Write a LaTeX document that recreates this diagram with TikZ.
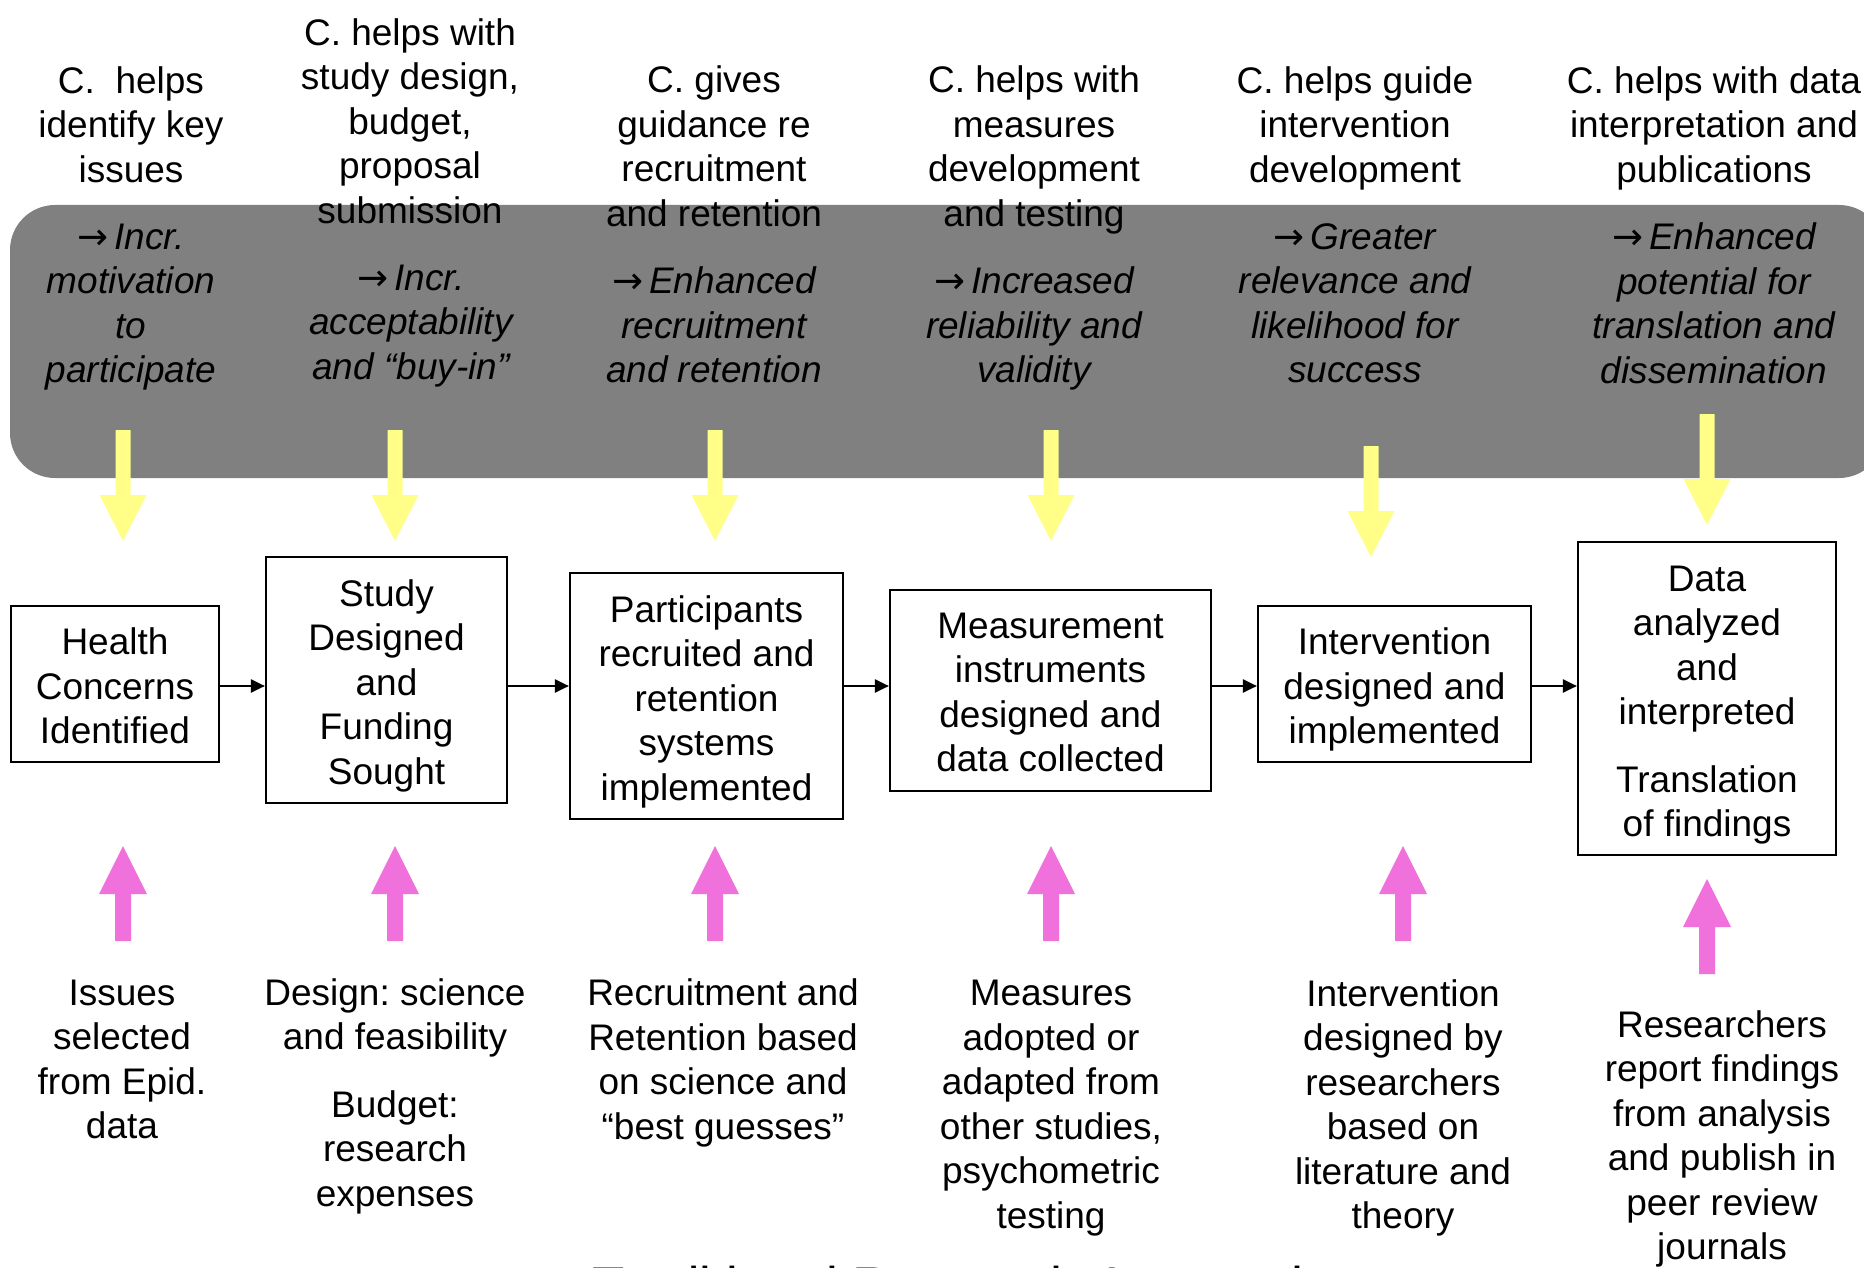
\documentclass[tikz,border=0pt]{standalone}
\usepackage{fontspec}
\setmainfont{Liberation Sans}
\newfontfamily\arrowfont{DejaVu Sans}
\usetikzlibrary{arrows.meta}
\definecolor{bandgray}{RGB}{128,128,128}
\definecolor{yel}{RGB}{255,255,136}
\definecolor{pnk}{RGB}{240,112,220}
\newcommand{\rarr}{{\upshape\arrowfont →}\,}
\frenchspacing
\begin{document}
\begin{tikzpicture}[x=1pt,y=-1pt,
  txt/.style={font=\fontsize{37}{44.5}\selectfont\frenchspacing, align=center, inner sep=0pt,
    execute at begin node=\strut, execute at end node=\strut},
  itxt/.style={txt, font=\fontsize{37}{44.5}\selectfont\itshape},
  stepbox/.style={draw=black, line width=2.2pt, inner sep=0pt},
  conn/.style={line width=2.2pt, -{Triangle[length=14pt,width=13pt]}},
  yarrow/.pic={\fill[yel] (-7.5,0) -- (7.5,0) -- (7.5,65) -- (23.5,65) -- (0,111) -- (-23.5,65) -- (-7.5,65) -- cycle;},
  parrow/.pic={\fill[pnk] (-8,0) -- (8,0) -- (8,-47) -- (24,-47) -- (0,-95) -- (-24,-47) -- (-8,-47) -- cycle;}
]
\useasboundingbox (0,0) rectangle (1864,1268);
\clip (0,0) rectangle (1864,1268);

% grey band
\fill[bandgray, rounded corners=45pt] (10,205) rectangle (1884,478);

% top texts
\node[txt] (t1) at (131,131) {C.\ \ helps\\identify key\\issues};
\node[txt] (t2) at (410,127.5) {C. helps with\\study design,\\budget,\\proposal\\submission};
\node[txt] (t3) at (714,153) {C. gives\\guidance re\\recruitment\\and retention};
\node[txt] (t4) at (1034,153) {C. helps with\\measures\\development\\and testing};
\node[txt] (t5) at (1355,131) {C. helps guide\\intervention\\development};
\node[txt] (t6) at (1714,131) {C. helps with data\\interpretation and\\publications};

% italic outcome texts
\node[itxt] (i1) at (131,310) {\rarr Incr.\\motivation\\to\\participate};
\node[itxt] (i2) at (411,328.5) {\rarr Incr.\\acceptability\\and “buy-in”};
\node[itxt] (i3) at (714,331.5) {\rarr Enhanced\\recruitment\\and retention};
\node[itxt] (i4) at (1034,331.5) {\rarr Increased\\reliability and\\validity};
\node[itxt] (i5) at (1355,310) {\rarr Greater\\relevance and\\likelihood for\\success};
\node[itxt] (i6) at (1714,310) {\rarr Enhanced\\potential for\\translation and\\dissemination};

% yellow arrows
\pic at (123,430) {yarrow};
\pic at (395,430) {yarrow};
\pic at (715,430) {yarrow};
\pic at (1051,430) {yarrow};
\pic at (1371,446) {yarrow};
\pic at (1707,414) {yarrow};

% process boxes
\node[stepbox, minimum width=208pt, minimum height=156pt] (b1) at (115,684) {};
\node[stepbox, minimum width=241pt, minimum height=246pt] (b2) at (386.5,680) {};
\node[stepbox, minimum width=273pt, minimum height=246pt] (b3) at (706.5,696) {};
\node[stepbox, minimum width=321pt, minimum height=201pt] (b4) at (1050.5,690.5) {};
\node[stepbox, minimum width=273pt, minimum height=156pt] (b5) at (1394.5,684) {};
\node[stepbox, minimum width=258pt, minimum height=313pt] (b6) at (1707,698.5) {};

\node[txt] (b1t) at ([yshift=-8.5pt]b1.center) {Health\\Concerns\\Identified};
\node[txt] (b2t) at ([yshift=-8.5pt]b2.center) {Study\\Designed\\and\\Funding\\Sought};
\node[txt] (b3t) at ([yshift=-8.5pt]b3.center) {Participants\\recruited and\\retention\\systems\\implemented};
\node[txt] (b4t) at ([yshift=-8.5pt]b4.center) {Measurement\\instruments\\designed and\\data collected};
\node[txt] (b5t) at ([yshift=-8.5pt]b5.center) {Intervention\\designed and\\implemented};
\node[txt] (b6t) at ([yshift=-9.5pt]b6.center) {Data\\analyzed\\and\\interpreted\\[23pt]Translation\\of findings};

\coordinate (flow) at (0,686);
\draw[conn] (b1.east |- flow) -- (b2.west |- flow);
\draw[conn] (b2.east |- flow) -- (b3.west |- flow);
\draw[conn] (b3.east |- flow) -- (b4.west |- flow);
\draw[conn] (b4.east |- flow) -- (b5.west |- flow);
\draw[conn] (b5.east |- flow) -- (b6.west |- flow);

% pink arrows
\pic at (123,941) {parrow};
\pic at (395,941) {parrow};
\pic at (715,941) {parrow};
\pic at (1051,941) {parrow};
\pic at (1403,941) {parrow};
\pic at (1707,974) {parrow};

% bottom texts
\node[txt] (s1) at (122,1066) {Issues\\selected\\from Epid.\\data};
\node[txt] (s2) at (395,1099) {Design: science\\and feasibility\\[23pt]Budget:\\research\\expenses};
\node[txt] (s3) at (723,1066) {Recruitment and\\Retention based\\on science and\\“best guesses”};
\node[txt] (s4) at (1051,1111) {Measures\\adopted or\\adapted from\\other studies,\\psychometric\\testing};
\node[txt] (s5) at (1403,1111) {Intervention\\designed by\\researchers\\based on\\literature and\\theory};
\node[txt] (s6) at (1722,1142) {Researchers\\report findings\\from analysis\\and publish in\\peer review\\journals};

% title (cut off at the bottom edge)
\node[font=\fontsize{53}{60}\selectfont, anchor=base, inner sep=0pt] (title) at (957,1304) {Traditional Research Approach};
\end{tikzpicture}
\end{document}
